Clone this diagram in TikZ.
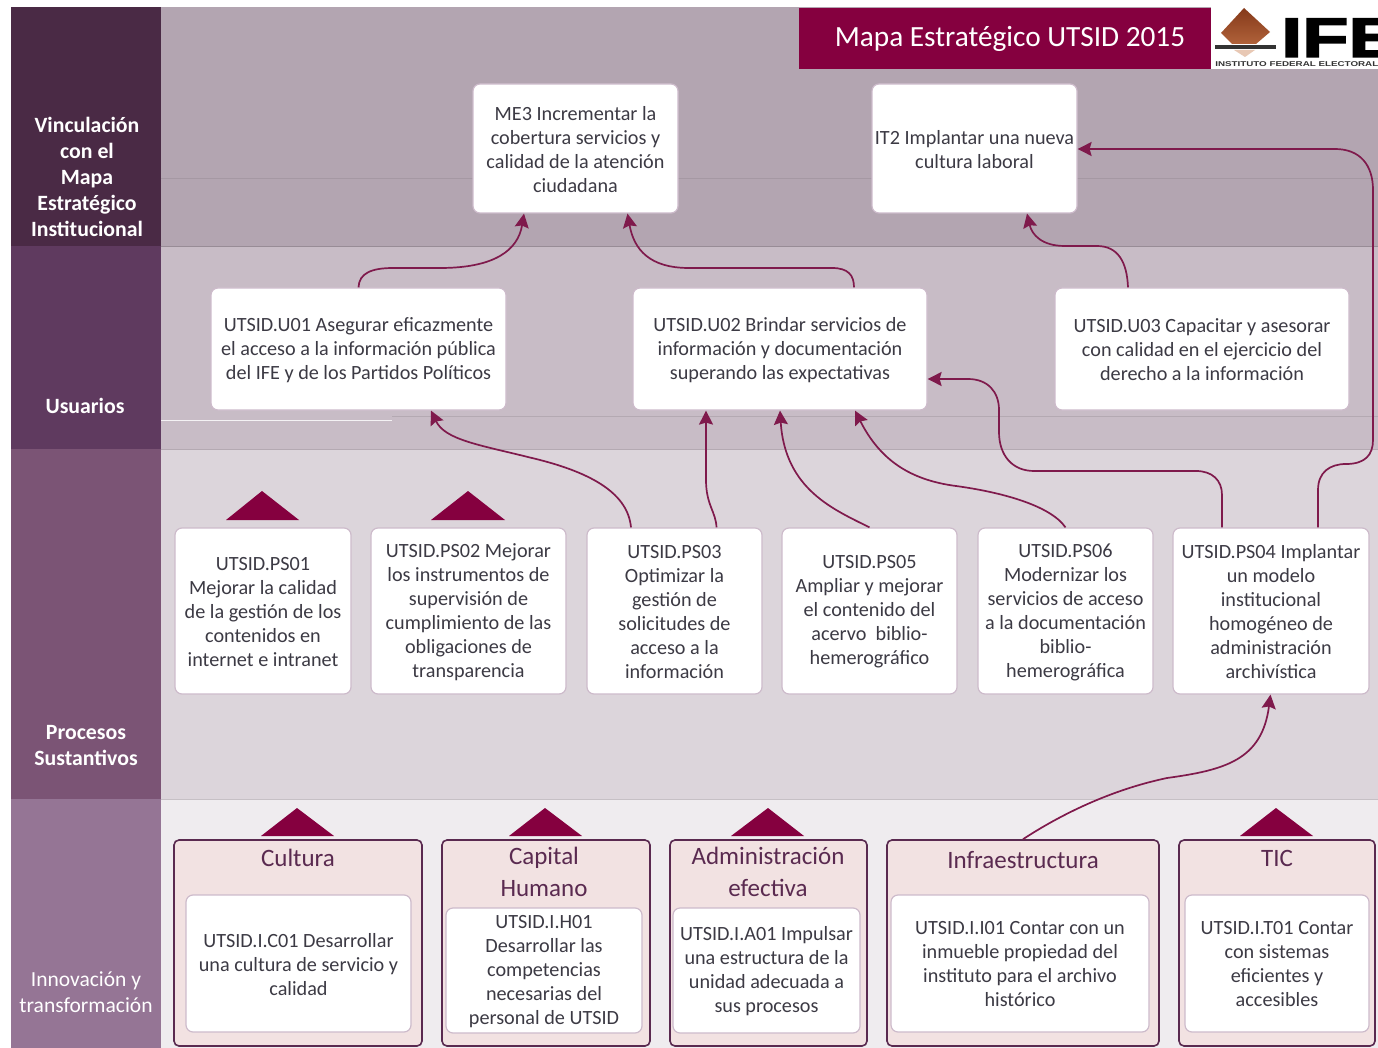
\documentclass[tikz,border=0pt]{standalone}
\usepackage{fontspec}
\setmainfont{Carlito}
\newfontfamily\logofont{Liberation Sans}
\newfontfamily\logoheavy[BoldFeatures={FakeBold=2.5}]{Liberation Sans}
\usetikzlibrary{arrows.meta}
\definecolor{wine}{HTML}{85003F}
\definecolor{linkc}{HTML}{7F1A4C}
\definecolor{txt}{HTML}{3C3A44}
\definecolor{sa}{HTML}{4A2A45}
\definecolor{sb}{HTML}{5F3A5F}
\definecolor{sc}{HTML}{7B5475}
\definecolor{sd}{HTML}{957595}
\definecolor{ba}{HTML}{B3A5B1}
\definecolor{bb}{HTML}{C8BCC6}
\definecolor{bc}{HTML}{DCD5DB}
\definecolor{bd}{HTML}{EFECEF}
\definecolor{edge}{HTML}{CDBBCB}
\definecolor{catfill}{HTML}{F2E2E2}
\definecolor{catedge}{HTML}{5A2A50}
\definecolor{logotop}{HTML}{85391A}
\definecolor{logobot}{HTML}{B0623A}
\definecolor{logotip}{HTML}{E8C8B4}
\tikzset{
  box/.style={draw=edge,line width=1.2pt,fill=white,rounded corners=7pt,inner sep=0pt},
  boxtext/.style={align=center,text=txt,font=\fontsize{20.2}{24}\selectfont,inner sep=0pt},
  cat/.style={draw=catedge,line width=1.6pt,fill=catfill,rounded corners=5pt,inner sep=0pt},
  cathead/.style={align=center,text=catedge,font=\fontsize{25}{32}\selectfont,inner sep=0pt},
  side/.style={align=center,text=white,font=\fontsize{21.8}{26}\selectfont\bfseries,inner sep=0pt},
  sidethin/.style={align=center,text=white,font=\fontsize{21.5}{26}\selectfont,inner sep=0pt},
  link/.style={draw=linkc,line width=1.7pt,-{Stealth[length=14pt,width=14pt,inset=2pt]}},
  tri/.style={fill=wine,draw=none},
  rule/.style={line width=0.7pt},
}
\newcommand{\bx}[6]{\node[box,minimum width=#3-#2,minimum height=#5-#4] (#1) at ({(#2+#3)/2},{(#4+#5)/2}) {};
  \node[boxtext] (#1t) at ([yshift=-1pt]#1.center) {#6};}
\newcommand{\ct}[6]{\node[cat,minimum width=#3-#2,minimum height=#5-#4] (#1) at ({(#2+#3)/2},{(#4+#5)/2}) {};}
\begin{document}
\begin{tikzpicture}[x=1pt,y=-1pt]
\useasboundingbox (0,0) rectangle (1378,1048);
\fill[white] (0,0) rectangle (1378,1048);
% bands
\fill[sa] (11,7) rectangle (161,246);
\fill[sb] (11,246) rectangle (161,449);
\fill[sc] (11,449) rectangle (161,799);
\fill[sd] (11,799) rectangle (161,1048);
\fill[ba] (161,7) rectangle (1378,246);
\fill[bb] (161,246) rectangle (1378,449);
\fill[bc] (161,449) rectangle (1378,799);
\fill[bd] (161,799) rectangle (1378,1048);
\draw[rule,draw=ba!92!black] (161,178) -- (1378,178);
\draw[rule,draw=ba!85!black] (161,246) -- (1378,246);
\draw[rule,draw=white!80!bb] (161,420) -- (392,420);
\draw[rule,draw=bb!90!black] (392,416) -- (1378,416);
\draw[rule,draw=bb!90!black] (161,449) -- (1378,449);
\draw[rule,draw=bc!90!black] (161,799) -- (1378,799);
% side labels
\node[side] (s1) at (87,177) {Vinculación\\con el\\Mapa\\Estratégico\\Institucional};
\node[side] (s2) at (85,406) {Usuarios};
\node[side] (s3) at (86,746) {Procesos\\Sustantivos};
\node[sidethin] (s4) at (86,992) {Innovación y\\transformación};
% title and logo
\fill[white] (1211,0) rectangle (1378,69);
\fill[wine] (799,8) rectangle (1211,69);
\node[text=white,inner sep=0pt,font=\fontsize{29.3}{36}\selectfont] (title) at (1010,38.5) {Mapa Estratégico UTSID 2015};
\shade[top color=logotop,bottom color=logobot] (1244,8) -- (1270,32) -- (1256,44) -- (1232,44) -- (1221,33) -- cycle;
\fill[black!80] (1215,45) rectangle (1276,49);
\fill[logotip] (1234,50) -- (1255,50) -- (1245,57) -- cycle;
\node[anchor=base west,inner sep=0pt,xscale=1.35,font=\logoheavy\fontsize{56}{56}\selectfont\bfseries,text=black] (ife) at (1281,57) {IFE};
\node[anchor=base west,inner sep=0pt,xscale=1.4,font=\logofont\fontsize{7}{8}\selectfont\bfseries,text=black!80] (ifes) at (1215,67) {INSTITUTO FEDERAL ELECTORAL};
% objective boxes
\bx{me3}{473}{678}{84}{213}{ME3 Incrementar la\\cobertura servicios y\\calidad de la atención\\ciudadana}
\bx{it2}{872}{1077}{84}{213}{IT2 Implantar una nueva\\cultura laboral}
\bx{u01}{211}{506}{288}{410}{UTSID.U01 Asegurar eficazmente\\el acceso a la información pública\\del IFE y de los Partidos Políticos}
\bx{u02}{633}{927}{288}{410}{UTSID.U02 Brindar servicios de\\información y documentación\\superando las expectativas}
\bx{u03}{1055}{1349}{288}{410}{UTSID.U03 Capacitar y asesorar\\con calidad en el ejercicio del\\derecho a la información}
\bx{ps1}{175}{351}{528}{694}{UTSID.PS01\\Mejorar la calidad\\de la gestión de los\\contenidos en\\internet e intranet}
\bx{ps2}{371}{566}{528}{694}{UTSID.PS02 Mejorar\\los instrumentos de\\supervisión de\\cumplimiento de las\\obligaciones de\\transparencia}
\bx{ps3}{587}{762}{528}{694}{UTSID.PS03\\Optimizar la\\gestión de\\solicitudes de\\acceso a la\\información}
\bx{ps5}{782}{957}{528}{694}{UTSID.PS05\\Ampliar y mejorar\\el contenido del\\acervo\ \ biblio-\\hemerográfico}
\bx{ps6}{978}{1153}{528}{694}{UTSID.PS06\\Modernizar los\\servicios de acceso\\a la documentación\\biblio-\\hemerográfica}
\bx{ps4}{1173}{1369}{528}{694}{UTSID.PS04 Implantar\\un modelo\\institucional\\homogéneo de\\administración\\archivística}
% triangles
\fill[tri] (226,520) -- (262,491) -- (299,520) -- cycle;
\fill[tri] (431,520) -- (468,491) -- (505,520) -- cycle;
\fill[tri] (261,836) -- (297,808) -- (334,836) -- cycle;
\fill[tri] (509,836) -- (545,808) -- (582,836) -- cycle;
\fill[tri] (731,836) -- (768,808) -- (804,836) -- cycle;
\fill[tri] (1240,836) -- (1276,808) -- (1313,836) -- cycle;
% categories
\ct{ccul}{174}{422}{840}{1046}{}
\ct{ccap}{442}{650}{840}{1046}{}
\ct{cadm}{670}{867}{840}{1046}{}
\ct{cinf}{887}{1159}{840}{1046}{}
\ct{ctic}{1179}{1375}{840}{1046}{}
\node[cathead] (h1) at (298,858) {Cultura};
\node[cathead] (h2) at (544,872) {Capital\\Humano};
\node[cathead] (h3) at (768,872) {Administración\\efectiva};
\node[cathead] (h4) at (1023,860) {Infraestructura};
\node[cathead] (h5) at (1277,858) {TIC};
\bx{ic}{186}{411}{895}{1032}{UTSID.I.C01 Desarrollar\\una cultura de servicio y\\calidad}
\bx{ih}{446}{642}{908}{1033}{UTSID.I.H01\\Desarrollar las\\competencias\\necesarias del\\personal de UTSID}
\bx{ia}{673}{860}{908}{1033}{UTSID.I.A01 Impulsar\\una estructura de la\\unidad adecuada a\\sus procesos}
\bx{ii}{891}{1149}{895}{1032}{UTSID.I.I01 Contar con un\\inmueble propiedad del\\instituto para el archivo\\histórico}
\bx{it}{1185}{1369}{895}{1032}{UTSID.I.T01 Contar\\con sistemas\\eficientes y\\accesibles}
% connectors
\draw[link] (u01.north) .. controls (359,273) and (372,268) .. (393,268) -- (440,268) .. controls (495,268) and (518,250) .. ([xshift=-51.5pt]me3.south);
\draw[link] ([xshift=74pt]u02.north) .. controls (854,275) and (848,268) .. (832,268) -- (689,268) .. controls (650,268) and (634,250) .. ([xshift=52pt]me3.south);
\draw[link] ([xshift=-74pt]u03.north) .. controls (1127,262) and (1118,246) .. (1097,246) -- (1065,246) .. controls (1042,246) and (1032,235) .. ([xshift=52.5pt]it2.south);
\draw[link] ([xshift=47pt]ps4.north) -- (1318,490) .. controls (1318,472) and (1330,464) .. (1346,464) .. controls (1365,464) and (1373,455) .. (1373,440) -- (1373,190) .. controls (1373,165) and (1360,149) .. (1335,149) -- (it2.east |- 0,149);
\draw[link] ([xshift=-49pt]ps4.north) -- (1222,495) .. controls (1222,480) and (1212,471) .. (1196,471) -- (1034,471) .. controls (1012,471) and (999,455) .. (999,432) -- (999,410) .. controls (999,392) and (988,379) .. (968,379) -- (u02.east |- 0,379);
\draw[link] (ps6.north) .. controls (1050,505) and (1000,492) .. (956,486) .. controls (910,480) and (880,460) .. ([xshift=75pt]u02.south);
\draw[link] (ps5.north) .. controls (835,510) and (785,490) .. (u02.south);
\draw[link] ([xshift=42pt]ps3.north) .. controls (716,512) and (706,505) .. (706,480) -- ([xshift=-74pt]u02.south);
\draw[link] ([xshift=-43.5pt]ps3.north) .. controls (628,495) and (595,473) .. (532,458) .. controls (480,445) and (445,440) .. ([xshift=72.5pt]u01.south);
\draw[link] (h4.north |- cinf.north) .. controls (1060,815) and (1110,790) .. (1167,778) .. controls (1225,770) and (1262,760) .. ([xshift=-0.5pt]ps4.south);
\end{tikzpicture}
\end{document}
